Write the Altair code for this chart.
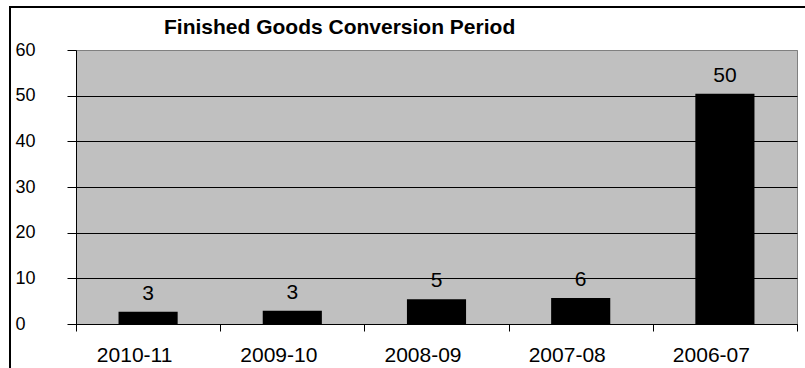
import altair as alt
import pandas as pd

periods = ["2010-11", "2009-10", "2008-09", "2007-08", "2006-07"]
values = [2.7, 2.9, 5.4, 5.7, 50.4]
y_ticks = [0, 10, 20, 30, 40, 50, 60]
title_text = "Finished Goods Conversion Period"

df = pd.DataFrame({"period": periods, "value": values})

W, H = 721, 274

x_enc = alt.X(
    "period:N",
    sort=periods,
    scale=alt.Scale(paddingInner=0, paddingOuter=0),
    axis=alt.Axis(
        title=None, labelAngle=0, tickBand="extent", grid=False,
        domainColor="black", domainWidth=1, tickColor="black", tickSize=7,
        labelFont="Liberation Sans", labelFontSize=21,
        labelColor="black", labelPadding=13, labelOffset=-14,
        labelBaseline="top", labelOverlap=False, labelFlush=False,
    ),
)
y_enc = alt.Y(
    "value:Q",
    scale=alt.Scale(domain=[0, 60], nice=False),
    axis=alt.Axis(
        title=None, values=y_ticks, grid=True,
        gridColor={"condition": {"test": "datum.value === 60", "value": "#808080"}, "value": "#000000"},
        gridWidth=1, domainColor="black", tickColor="black", tickSize=9,
        labelFont="Liberation Sans", labelFontSize=18, labelColor="black",
        labelAlign="left", labelBaseline="middle", labelPadding=52,
        labelOverlap=False, labelFlush=False,
    ),
)

bars = alt.Chart(df).mark_bar(color="black", width=alt.RelativeBandSize(0.41)).encode(
    x=x_enc, y=y_enc
)
labels = alt.Chart(df).mark_text(
    baseline="alphabetic", align="center", dy=-12, fontSize=21,
    font="Liberation Sans", color="black",
).encode(
    x=alt.X("period:N", sort=periods),
    y="value:Q",
    text=alt.Text("value:Q", format=".0f"),
)

frame_df = pd.DataFrame({"k": [0]})
left_border = alt.Chart(frame_df).mark_rule(color="black", strokeWidth=2).encode(
    x=alt.value(-66), y=alt.value(-43), y2=alt.value(330)
)
top_border = alt.Chart(frame_df).mark_rule(color="black", strokeWidth=2).encode(
    x=alt.value(-67), x2=alt.value(740), y=alt.value(-43)
)
title_mark = alt.Chart(pd.DataFrame({"t": [title_text]})).mark_text(
    align="left", baseline="alphabetic", font="Liberation Sans", fontSize=21,
    fontWeight="bold", color="black",
).encode(x=alt.value(88), y=alt.value(-16), text="t:N")

chart = alt.layer(bars, labels, left_border, top_border, title_mark).properties(
    width=W, height=H,
    autosize="none",
    padding={"left": 76, "top": 50, "right": 8, "bottom": 44},
).configure(background="white").configure_view(
    fill="#C0C0C0", stroke="#808080", strokeWidth=1
)

chart.save("out.html", embed_options={"renderer": "svg", "actions": False})
